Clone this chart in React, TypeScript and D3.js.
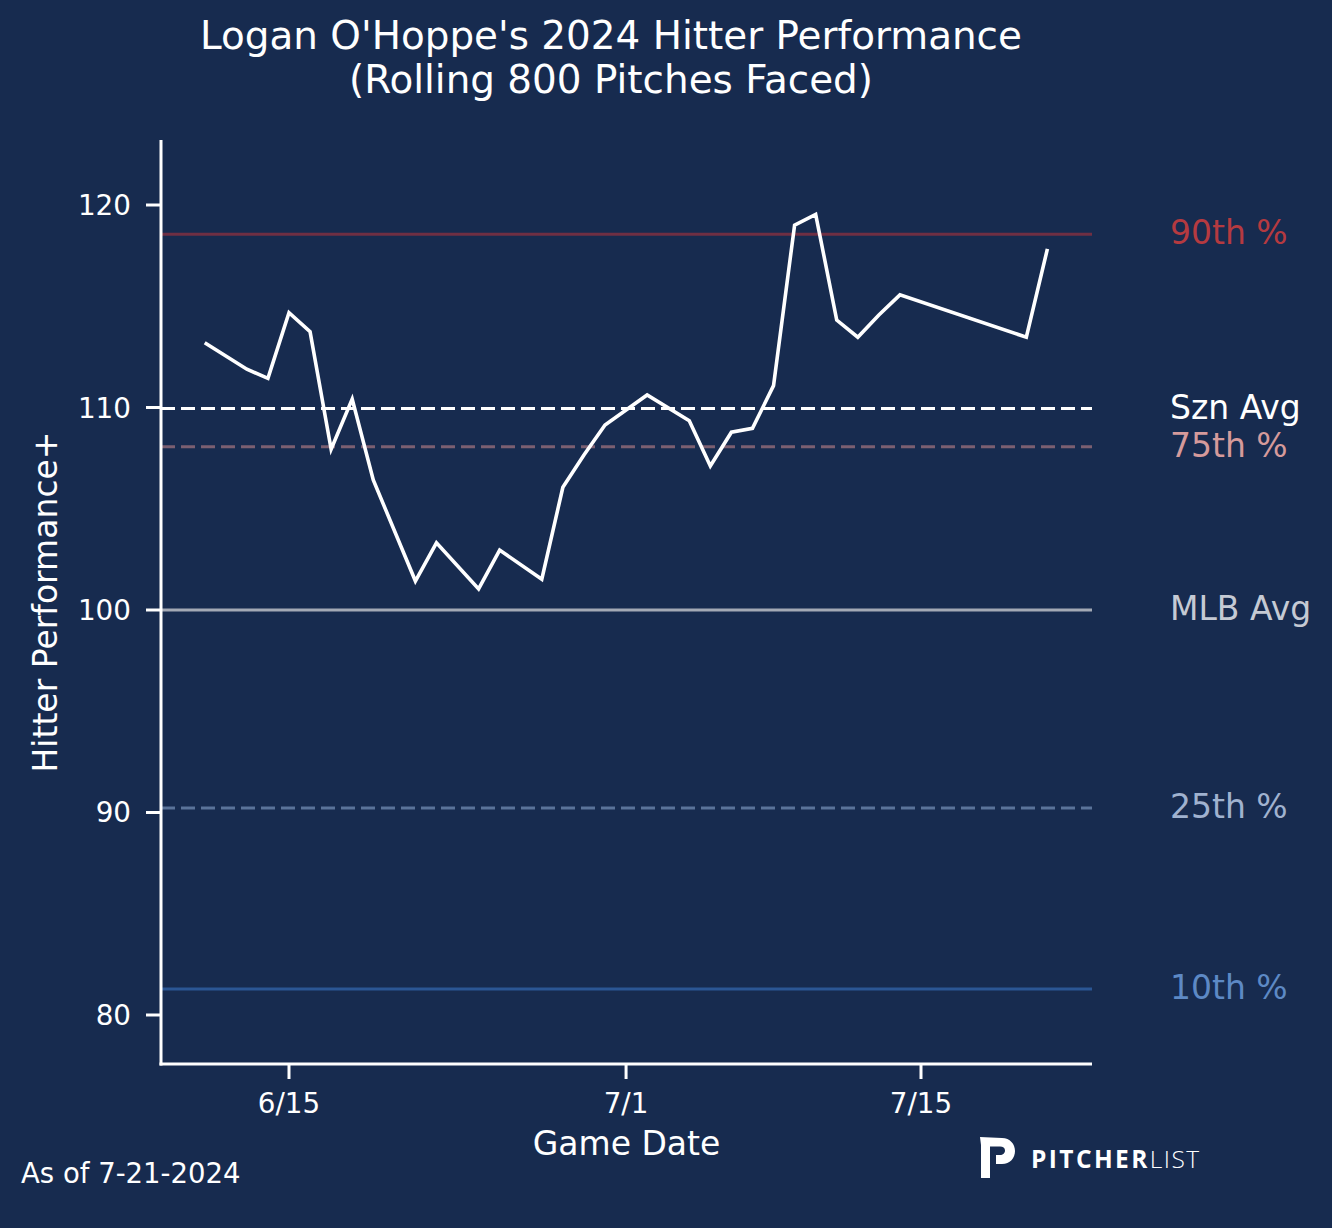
import React from "react";
import * as d3 from "d3";

const W = 1332;
const H = 1228;

// Game dates (2024) and rolling Hitter Performance+ values
const gameDates = [
  "2024-06-11", "2024-06-13", "2024-06-14", "2024-06-15", "2024-06-16", "2024-06-17",
  "2024-06-18", "2024-06-19", "2024-06-21", "2024-06-22", "2024-06-24", "2024-06-25",
  "2024-06-27", "2024-06-28", "2024-06-29", "2024-06-30", "2024-07-02", "2024-07-04",
  "2024-07-05", "2024-07-06", "2024-07-07", "2024-07-08", "2024-07-09", "2024-07-10",
  "2024-07-11", "2024-07-12", "2024-07-13", "2024-07-14", "2024-07-20", "2024-07-21",
];
const perfValues = [
  113.2, 111.89, 111.44, 114.68, 113.74, 107.94,
  110.42, 106.42, 101.43, 103.32, 101.04, 102.96,
  101.52, 106.06, 107.65, 109.14, 110.62, 109.35,
  107.11, 108.78, 108.97, 111.08, 119.01, 119.54,
  114.32, 113.47, 114.57, 115.56, 113.47, 117.83,
];

// Reference lines
const refLabels = ["90th %", "Szn Avg", "75th %", "MLB Avg", "25th %", "10th %"];
const refValues = [118.55, 109.95, 108.06, 100, 90.22, 81.28];
const refLineColors = ["#6f2f43", "#ffffff", "#7b5f71", "#a3a9b5", "#5a7399", "#2b5694"];
const refTextColors = ["#b53a40", "#ffffff", "#d59a9b", "#c5cad4", "#a0b2cf", "#5d89c5"];
const refDashed = [false, true, true, false, true, false];

const yTicks = [80, 90, 100, 110, 120];
const xTickDates = ["2024-06-15", "2024-07-01", "2024-07-15"];
const xTickLabels = ["6/15", "7/1", "7/15"];

const DAY = 86400000;
const parse = (s: string) => new Date(s + "T00:00:00Z");

const BG = "#172b4f";
const FONT = "'DejaVu Sans', sans-serif";

export default function App() {
  const left = 161;
  const right = 1092;
  const top = 140;
  const bottom = 1064;

  const x = d3
    .scaleUtc()
    .domain([
      new Date(parse("2024-06-15").getTime() - 6.076 * DAY),
      new Date(parse("2024-07-15").getTime() + 8.117 * DAY),
    ])
    .range([left, right]);
  const y = d3.scaleLinear().domain([77.58, 123.21]).range([bottom, top]);

  const pts = gameDates.map((d, i) => [x(parse(d)), y(perfValues[i])] as [number, number]);
  const line = d3.line<[number, number]>().x((d) => d[0]).y((d) => d[1])(pts) || "";

  return (
    <svg
      width={W}
      height={H}
      style={{ position: "absolute", left: 0, top: 0, background: BG }}
      fontFamily={FONT}
    >
      <rect x={0} y={0} width={W} height={H} fill={BG} />

      {/* Title */}
      <text x={611} y={49} textAnchor="middle" fill="#ffffff" fontSize={38.9}>
        Logan O'Hoppe's 2024 Hitter Performance
      </text>
      <text x={611} y={93} textAnchor="middle" fill="#ffffff" fontSize={38.9}>
        (Rolling 800 Pitches Faced)
      </text>

      {/* Reference lines */}
      {refValues.map((v, i) => (
        <line
          key={"ref" + i}
          x1={left}
          x2={right}
          y1={y(v)}
          y2={y(v)}
          stroke={refLineColors[i]}
          strokeWidth={3}
          strokeDasharray={refDashed[i] ? "14 6" : undefined}
        />
      ))}

      {/* Data line */}
      <path d={line} fill="none" stroke="#ffffff" strokeWidth={3.6} strokeLinejoin="miter" />

      {/* Reference labels */}
      {refValues.map((v, i) => (
        <text
          key={"lab" + i}
          x={1170}
          y={y(v) + 10}
          fill={refTextColors[i]}
          fontSize={33}
        >
          {refLabels[i]}
        </text>
      ))}

      {/* Axes spines */}
      <line x1={left} x2={left} y1={top} y2={bottom + 1.5} stroke="#ffffff" strokeWidth={3} />
      <line x1={left - 1.5} x2={right} y1={bottom} y2={bottom} stroke="#ffffff" strokeWidth={3} />

      {/* Y ticks */}
      {yTicks.map((t) => (
        <g key={"yt" + t}>
          <line x1={left - 15} x2={left} y1={y(t)} y2={y(t)} stroke="#ffffff" strokeWidth={3} />
          <text x={131} y={y(t) + 10} textAnchor="end" fill="#ffffff" fontSize={27.8}>
            {t}
          </text>
        </g>
      ))}

      {/* X ticks */}
      {xTickDates.map((d, i) => (
        <g key={"xt" + i}>
          <line
            x1={x(parse(d))}
            x2={x(parse(d))}
            y1={bottom}
            y2={bottom + 15}
            stroke="#ffffff"
            strokeWidth={3}
          />
          <text x={x(parse(d))} y={1113} textAnchor="middle" fill="#ffffff" fontSize={27.8}>
            {xTickLabels[i]}
          </text>
        </g>
      ))}

      {/* Axis labels */}
      <text x={(left + right) / 2} y={1155} textAnchor="middle" fill="#ffffff" fontSize={33}>
        Game Date
      </text>
      <text
        transform={`translate(57, ${(top + bottom) / 2}) rotate(-90)`}
        textAnchor="middle"
        fill="#ffffff"
        fontSize={33}
      >
        Hitter Performance+
      </text>

      {/* Footer */}
      <text x={21} y={1183} fill="#ffffff" fontSize={27.5}>
        As of 7-21-2024
      </text>

      {/* Logo */}
      <g fill="#ffffff">
        <path d="M980,1137 L1002,1138 C1010,1138 1015,1144 1015,1151 C1015,1158 1010,1164 1002,1164 L996,1164 L996,1155 L1000,1155 C1003,1155 1005,1153 1005,1150.5 C1005,1148 1003,1146.5 1000,1146.5 L990,1146.5 L990,1178 L981,1178 L981,1145 Z" />
        <text x={1031} y={1168} fontFamily="'Open Sans', sans-serif" fontSize={24.5} fontWeight={700} letterSpacing={2.4}>
          PITCHER
          <tspan fontWeight={300} letterSpacing={1.5}>LIST</tspan>
        </text>
      </g>
    </svg>
  );
}
